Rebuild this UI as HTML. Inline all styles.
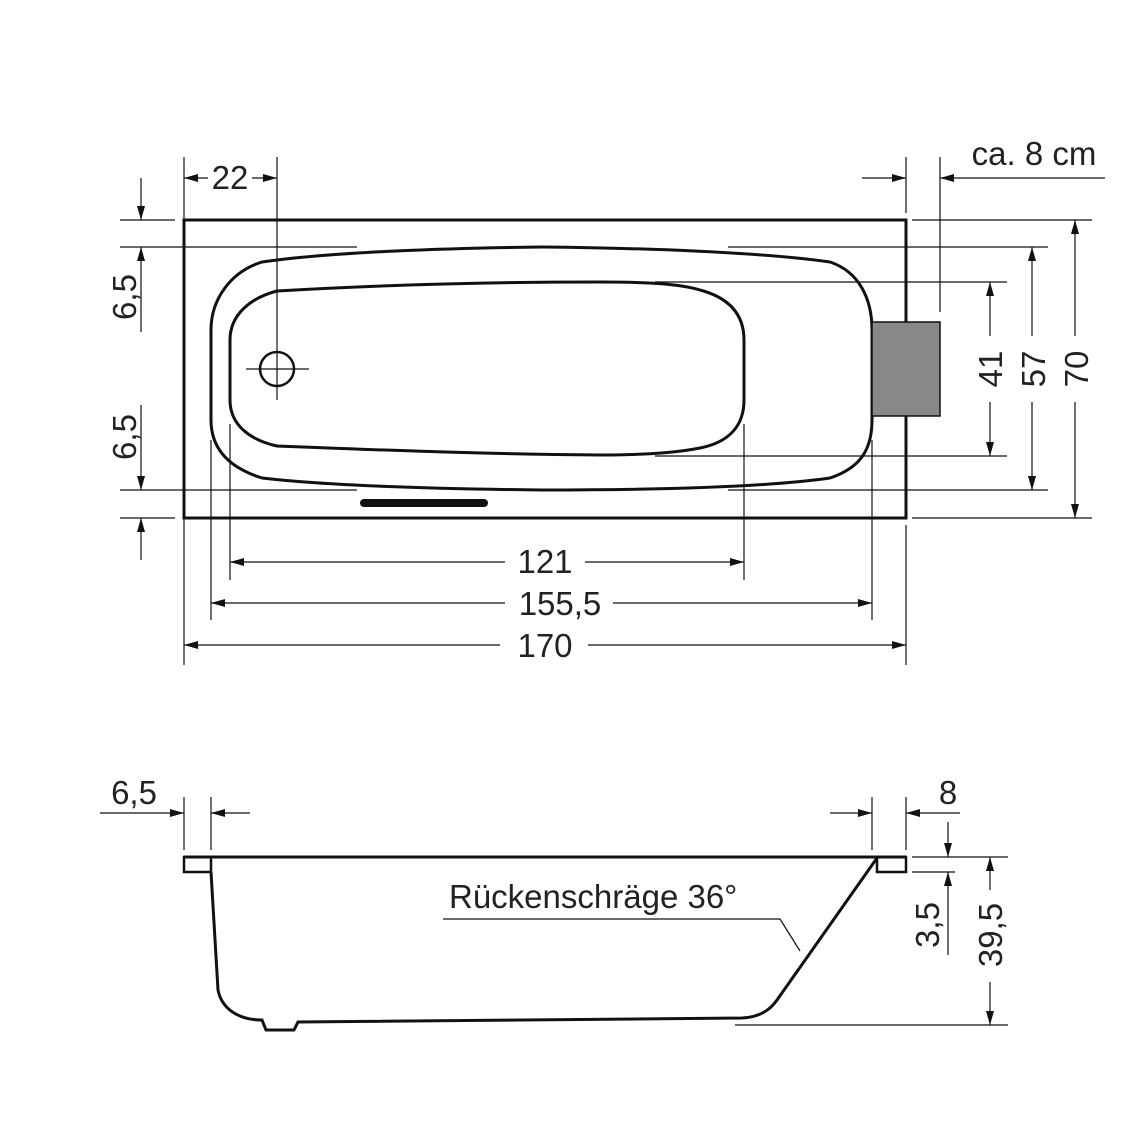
<!DOCTYPE html>
<html><head><meta charset="utf-8"><style>html,body{margin:0;padding:0;background:#fff}svg{display:block}text{font-family:"Liberation Sans",sans-serif;fill:#222}</style></head><body>
<svg width="1146" height="1145" viewBox="0 0 1146 1145" xmlns="http://www.w3.org/2000/svg">
<defs>
<marker id="a" viewBox="0 0 14 8" refX="14" refY="4" markerWidth="14" markerHeight="8" markerUnits="userSpaceOnUse" orient="auto"><path d="M0,0L14,4L0,8Z" fill="#111"/></marker>
</defs>
<g stroke="#111" fill="none">
<rect x="184" y="220" width="722" height="298" stroke-width="3"/>
<path d="M262,262 C330,252 450,248 542,247 C640,248 760,252 830,262 C860,272 872,300 872,330 L872,420 C872,450 860,468 830,478 C760,488 640,490 542,490 C450,489 330,486 262,478 C230,468 211,450 211,420 L211,330 C211,300 230,272 262,262 Z" stroke-width="3"/>
<path d="M277,291 C380,285 480,282 600,282 C650,282 680,284 700,290 C730,298 744,315 744,340 L744,400 C744,425 730,442 700,448 C680,452 650,455 600,455 C480,454 380,450 277,446 C250,440 230,425 230,400 L230,340 C230,315 250,298 277,291 Z" stroke-width="3"/>
<circle cx="277" cy="369" r="17" stroke-width="2.5"/>
<line x1="246" y1="369" x2="309" y2="369" stroke-width="1.2"/>
<line x1="277" y1="157" x2="277" y2="400" stroke-width="1.2"/>
<line x1="364" y1="503" x2="484" y2="503" stroke-width="8" stroke-linecap="round"/>
<rect x="872" y="322" width="68" height="94" fill="#888" stroke="#111" stroke-width="1.5"/>
<g stroke-width="1.2">
<line x1="184" y1="157" x2="184" y2="665"/>
<line x1="906" y1="157" x2="906" y2="213"/><line x1="906" y1="525" x2="906" y2="665"/>
<line x1="940" y1="157" x2="940" y2="312"/>
<line x1="211" y1="440" x2="211" y2="620"/>
<line x1="230" y1="424" x2="230" y2="580"/>
<line x1="744" y1="424" x2="744" y2="580"/>
<line x1="872" y1="440" x2="872" y2="620"/>
<line x1="120" y1="220" x2="175" y2="220"/><line x1="120" y1="247" x2="357" y2="247"/>
<line x1="120" y1="490" x2="357" y2="490"/><line x1="120" y1="518" x2="175" y2="518"/>
<line x1="912" y1="220" x2="1092" y2="220"/><line x1="728" y1="247" x2="1048" y2="247"/>
<line x1="655" y1="282" x2="1007" y2="282"/><line x1="655" y1="456" x2="1007" y2="456"/>
<line x1="728" y1="490" x2="1048" y2="490"/><line x1="912" y1="518" x2="1092" y2="518"/>
<line x1="208" y1="178" x2="184" y2="178" marker-end="url(#a)"/>
<line x1="252" y1="178" x2="277" y2="178" marker-end="url(#a)"/>
<line x1="862" y1="178" x2="906" y2="178" marker-end="url(#a)"/>
<line x1="1105" y1="178" x2="940" y2="178" marker-end="url(#a)"/>
<line x1="141" y1="178" x2="141" y2="220" marker-end="url(#a)"/>
<line x1="141" y1="332" x2="141" y2="247" marker-end="url(#a)"/>
<line x1="141" y1="405" x2="141" y2="490" marker-end="url(#a)"/>
<line x1="141" y1="560" x2="141" y2="518" marker-end="url(#a)"/>
<line x1="990" y1="369" x2="990" y2="282" marker-end="url(#a)"/><line x1="990" y1="369" x2="990" y2="456" marker-end="url(#a)"/>
<line x1="1032" y1="369" x2="1032" y2="247" marker-end="url(#a)"/><line x1="1032" y1="369" x2="1032" y2="490" marker-end="url(#a)"/>
<line x1="1075" y1="369" x2="1075" y2="220" marker-end="url(#a)"/><line x1="1075" y1="369" x2="1075" y2="518" marker-end="url(#a)"/>
<line x1="487" y1="562" x2="230" y2="562" marker-end="url(#a)"/><line x1="487" y1="562" x2="744" y2="562" marker-end="url(#a)"/>
<line x1="541" y1="603" x2="211" y2="603" marker-end="url(#a)"/><line x1="541" y1="603" x2="872" y2="603" marker-end="url(#a)"/>
<line x1="545" y1="645" x2="184" y2="645" marker-end="url(#a)"/><line x1="545" y1="645" x2="906" y2="645" marker-end="url(#a)"/>
</g>
<line x1="184" y1="857" x2="906" y2="857" stroke-width="3"/>
<rect x="184" y="857" width="27" height="15" stroke-width="2.5"/>
<rect x="877" y="857" width="29" height="15" stroke-width="2.5"/>
<path d="M211,872 L218,990 C222,1010 240,1020 262,1020 L266,1030 L294,1030 L298,1022 L742,1018 C760,1017 770,1010 777,1000 L877,858" stroke-width="3"/>
<path d="M443,919 L780,919 L800,951" stroke-width="1.2"/>
<g stroke-width="1.2">
<line x1="184" y1="797" x2="184" y2="850"/><line x1="211" y1="797" x2="211" y2="850"/>
<line x1="872" y1="797" x2="872" y2="850"/><line x1="906" y1="797" x2="906" y2="850"/>
<line x1="100" y1="813" x2="184" y2="813" marker-end="url(#a)"/>
<line x1="250" y1="813" x2="211" y2="813" marker-end="url(#a)"/>
<line x1="830" y1="813" x2="872" y2="813" marker-end="url(#a)"/>
<line x1="960" y1="813" x2="906" y2="813" marker-end="url(#a)"/>
<line x1="912" y1="857" x2="1008" y2="857"/><line x1="912" y1="872" x2="955" y2="872"/>
<line x1="735" y1="1025" x2="1008" y2="1025"/>
<line x1="948" y1="822" x2="948" y2="857" marker-end="url(#a)"/>
<line x1="948" y1="955" x2="948" y2="872" marker-end="url(#a)"/>
<line x1="990" y1="935" x2="990" y2="857" marker-end="url(#a)"/><line x1="990" y1="935" x2="990" y2="1025" marker-end="url(#a)"/>
</g>
</g>
<g font-size="33">
<rect x="208" y="160" width="44" height="34" fill="#fff"/>
<text x="230" y="189" text-anchor="middle">22</text>
<text x="1034" y="165" text-anchor="middle">ca. 8 cm</text>
<text transform="translate(136,297) rotate(-90)" text-anchor="middle">6,5</text>
<text transform="translate(136,437) rotate(-90)" text-anchor="middle">6,5</text>
<rect x="973" y="336" width="32" height="66" fill="#fff"/>
<text transform="translate(1002,369) rotate(-90)" text-anchor="middle">41</text>
<rect x="1015" y="336" width="32" height="66" fill="#fff"/>
<text transform="translate(1045,369) rotate(-90)" text-anchor="middle">57</text>
<rect x="1058" y="336" width="32" height="66" fill="#fff"/>
<text transform="translate(1088,369) rotate(-90)" text-anchor="middle">70</text>
<rect x="505" y="540" width="80" height="40" fill="#fff"/>
<text x="545" y="573" text-anchor="middle">121</text>
<rect x="505" y="583" width="108" height="40" fill="#fff"/>
<text x="560" y="615" text-anchor="middle">155,5</text>
<rect x="500" y="625" width="88" height="42" fill="#fff"/>
<text x="545" y="657" text-anchor="middle">170</text>
<text x="134" y="804" text-anchor="middle">6,5</text>
<text x="948" y="804" text-anchor="middle">8</text>
<text x="449" y="908">Rückenschräge 36°</text>
<text transform="translate(939,925) rotate(-90)" text-anchor="middle">3,5</text>
<rect x="973" y="890" width="32" height="92" fill="#fff"/>
<text transform="translate(1002,935) rotate(-90)" text-anchor="middle">39,5</text>
</g>
</svg>
</body></html>
